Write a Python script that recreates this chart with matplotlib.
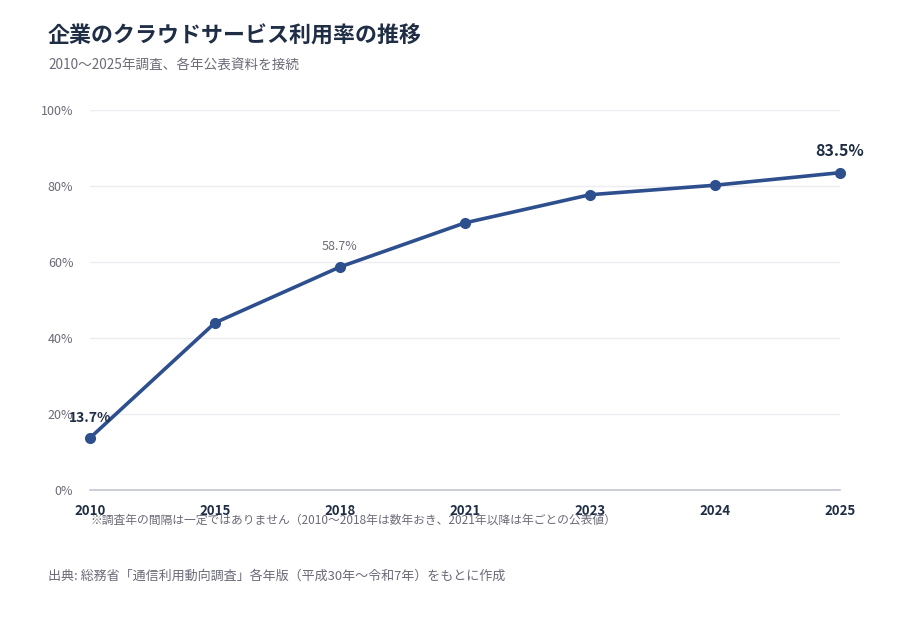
import matplotlib

matplotlib.use("Agg")
import matplotlib.pyplot as plt

plt.rcParams["font.family"] = ["Noto Sans CJK JP", "DejaVu Sans"]

years = ["2010", "2015", "2018", "2021", "2023", "2024", "2025"]
usage = [13.7, 44.0, 58.7, 70.3, 77.7, 80.2, 83.5]
y_ticks = [0, 20, 40, 60, 80, 100]

LINE = "#2d4f8e"
DARK = "#1f2d45"
GRAY = "#6b6b78"

fig = plt.figure(figsize=(9, 6.2), dpi=100)
ax = fig.add_axes([0.1, 0.2097, 0.8333, 0.6129])

x = list(range(len(years)))
ax.plot(x, usage, color=LINE, linewidth=2.6, marker="o", markersize=7, zorder=3, clip_on=False)

ax.set_xlim(0, len(years) - 1)
ax.set_ylim(0, 100)
ax.set_yticks(y_ticks)
ax.set_yticklabels([f"{v}%" for v in y_ticks], fontsize=9, color=GRAY)
ax.set_xticks(x)
ax.set_xticklabels(years, fontsize=9.5, color=DARK, fontweight="bold")
ax.tick_params(axis="y", length=0, pad=12)
ax.tick_params(axis="x", length=0, pad=10)
ax.grid(axis="y", color="#ececf2", linewidth=1)
ax.set_axisbelow(True)
for side in ["top", "right", "left"]:
    ax.spines[side].set_visible(False)
ax.spines["bottom"].set_color("#c3c6d2")
ax.spines["bottom"].set_linewidth(1.2)

# value labels
ax.annotate(f"{usage[0]}%", (x[0], usage[0]), xytext=(0, 9), textcoords="offset points",
            ha="center", va="bottom", fontsize=10, fontweight="bold", color=DARK)
ax.annotate(f"{usage[2]}%", (x[2], usage[2]), xytext=(0, 10), textcoords="offset points",
            ha="center", va="bottom", fontsize=9, color=GRAY)
ax.annotate(f"{usage[-1]}%", (x[-1], usage[-1]), xytext=(0, 10), textcoords="offset points",
            ha="center", va="bottom", fontsize=11.5, fontweight="bold", color=DARK)

fig.text(48 / 900, 1 - 36 / 620, "企業のクラウドサービス利用率の推移", fontsize=15.8, fontweight="bold",
         color=DARK, va="center", ha="left")
fig.text(48 / 900, 1 - 66 / 620, "2010〜2025年調査、各年公表資料を接続", fontsize=9.8,
         color=GRAY, va="center", ha="left")
fig.text(90 / 900, 1 - 520 / 620,
         "※調査年の間隔は一定ではありません（2010〜2018年は数年おき、2021年以降は年ごとの公表値）",
         fontsize=8.5, color=GRAY, va="center", ha="left")
fig.text(48 / 900, 1 - 576 / 620, "出典: 総務省「通信利用動向調査」各年版（平成30年〜令和7年）をもとに作成",
         fontsize=9.4, color=GRAY, va="center", ha="left")

fig.savefig("out.png", dpi=100, facecolor="white")
